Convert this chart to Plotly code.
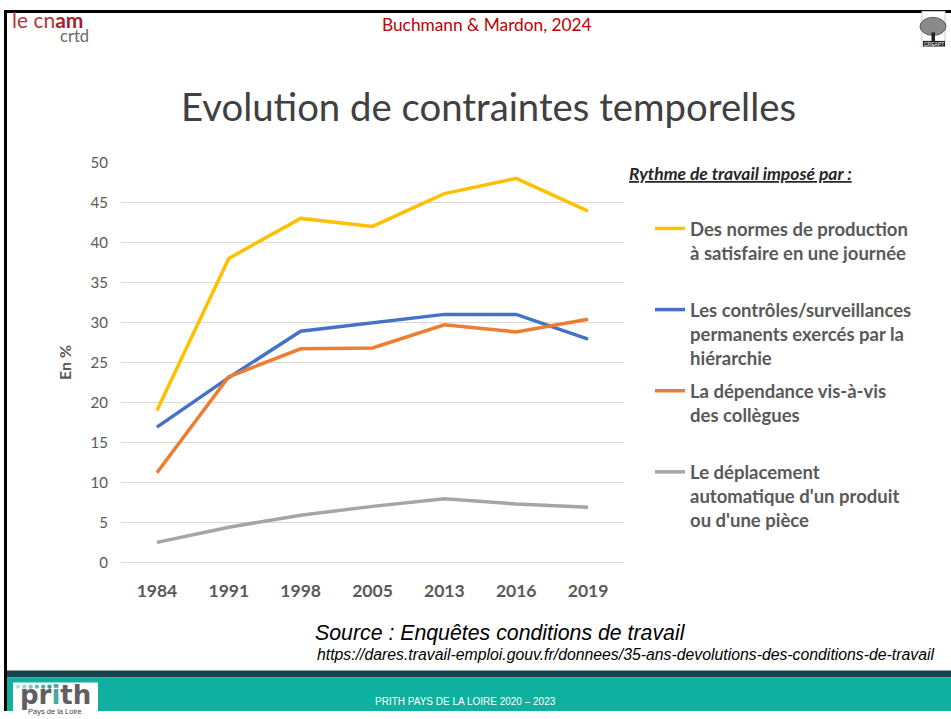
import plotly.graph_objects as go

W, H = 951, 719
# the photographed page maps figure pixel y to 9.6 + 0.975*y; design coordinates below are
# in the reference picture's pixels and are converted back through this mapping
Y_OFF, Y_SC = 9.6, 0.975

years = ["1984", "1991", "1998", "2005", "2013", "2016", "2019"]
normes = [19, 38, 43, 42, 46.1, 48, 43.9]
controles = [16.9, 23.1, 28.9, 30, 31, 31, 27.9]
dependance = [11.2, 23.2, 26.7, 26.8, 29.7, 28.8, 30.4]
deplacement = [2.5, 4.4, 5.9, 7.0, 7.95, 7.3, 6.9]

series_names = [
    "Des normes de production<br>à satisfaire en une journée<br> ",
    "Les contrôles/surveillances<br>permanents exercés par la<br>hiérarchie",
    "La dépendance vis-à-vis<br>des collègues<br> ",
    "Le déplacement<br>automatique d'un produit<br>ou d'une pièce",
]
series_values = [normes, controles, dependance, deplacement]
series_colors = ["#FFC000", "#4472C4", "#ED7D31", "#A5A5A5"]
y_ticks = [0, 5, 10, 15, 20, 25, 30, 35, 40, 45, 50]


def px(x):
    return x / W


def py(y):
    yf = (y - Y_OFF) / Y_SC
    return min(1.0, max(0.0, 1 - yf / H))


fig = go.Figure()
for i, (name, vals, col) in enumerate(zip(series_names, series_values, series_colors)):
    fig.add_trace(go.Scatter(
        x=years, y=vals, name=name, mode="lines", legendgroup=f"g{i}",
        line=dict(color=col, width=3.5), hoverinfo="x+y",
    ))

shapes = []
# slide frame
shapes.append(dict(type="line", xref="paper", yref="paper", x0=px(5), x1=px(951), y0=1 - 1.5 / H, y1=1 - 1.5 / H,
                   line=dict(color="black", width=3)))
shapes.append(dict(type="line", xref="paper", yref="paper", x0=px(5.5), x1=px(5.5), y0=0, y1=1,
                   line=dict(color="black", width=3)))
# footer bands
shapes.append(dict(type="rect", xref="paper", yref="paper", x0=px(7), x1=px(951), y0=py(670), y1=py(677),
                   fillcolor="#17434C", line=dict(width=0), layer="below"))
shapes.append(dict(type="rect", xref="paper", yref="paper", x0=px(7), x1=px(951), y0=0, y1=py(677),
                   fillcolor="#10B0A0", line=dict(width=0), layer="below"))
# prith logo box
shapes.append(dict(type="rect", xref="paper", yref="paper", x0=px(13), x1=px(98), y0=0, y1=py(682),
                   fillcolor="white", line=dict(width=0)))
# prith dots
dot_cols = ["#B8E2DD", "#9ED8D1", "#7ECDC4", "#5EC2B7", "#3DB6A9", "#1DAA9B"]
for i, c in enumerate(dot_cols):
    cx = 18 + i * 6.3
    shapes.append(dict(type="circle", xref="paper", yref="paper", x0=px(cx - 2.2), x1=px(cx + 2.2),
                       y0=py(688.4), y1=py(684), fillcolor=c, line=dict(width=0)))
# CREAPT tree logo
shapes.append(dict(type="rect", xref="paper", yref="paper", x0=px(922), x1=px(945), y0=py(46), y1=py(11),
                   fillcolor="white", line=dict(color="#cfcfcf", width=1)))
shapes.append(dict(type="circle", xref="paper", yref="paper", x0=px(920), x1=px(946), y0=py(35), y1=py(17),
                   fillcolor="#8a8a8a", line=dict(color="#5a5a5a", width=1)))
shapes.append(dict(type="rect", xref="paper", yref="paper", x0=px(931.5), x1=px(935), y0=py(41), y1=py(32),
                   fillcolor="#222222", line=dict(width=0)))
shapes.append(dict(type="rect", xref="paper", yref="paper", x0=px(923), x1=px(945), y0=py(46), y1=py(40.5),
                   fillcolor="#222222", line=dict(width=0)))

annotations = []


def note(x, y, text, size, color, family="Lato, Liberation Sans", xanchor="left"):
    annotations.append(dict(x=px(x), y=py(y), xref="paper", yref="paper", xanchor=xanchor, yanchor="middle",
                            showarrow=False, text=text, font=dict(family=family, size=size, color=color)))


# header
note(10, 19, "<span style='color:#B5353F'>le cn</span><b><span style='color:#A51E2B'>am</span></b>", 21, "#B5353F")
note(58, 36, "crtd", 16.5, "#6B6A5F")
note(487, 24, "Buchmann & Mardon, 2024", 17.3, "#C00000", xanchor="center")
note(933.5, 43.5, "CREAPT", 5, "white", family="Liberation Sans", xanchor="center")
# title
note(488, 106, "Evolution de contraintes temporelles", 38.3, "#404040", family="Lato, Open Sans", xanchor="center")
# legend heading
note(627, 173, "<b><i><u>Rythme de travail imposé par :</u></i></b>", 17.5, "#262626")
# source
note(313, 633, "<i>Source : Enquêtes conditions de travail</i>", 21.3, "black", family="Liberation Sans")
note(936, 654, "<i>https://dares.travail-emploi.gouv.fr/donnees/35-ans-devolutions-des-conditions-de-travail</i>",
     15.8, "black", family="Liberation Sans", xanchor="right")
# footer
note(465, 701, "PRITH PAYS DE LA LOIRE 2020 – 2023", 10, "white", family="Liberation Sans", xanchor="center")
note(55, 695, "<b><span style='color:#5F5F5F'>pr</span><span style='color:#4BA9A0'>i</span>"
              "<span style='color:#5F5F5F'>th</span></b>", 26, "#5F5F5F", family="DejaVu Sans", xanchor="center")
note(55, 712, "Pays de la Loire", 7.5, "#444444", family="Liberation Sans", xanchor="center")

fig.update_layout(
    width=W, height=H,
    margin=dict(l=0, r=0, t=0, b=0),
    paper_bgcolor="white", plot_bgcolor="white",
    font=dict(family="Lato, Liberation Sans", color="#595959"),
    showlegend=True,
    legend=dict(
        x=px(650), y=py(209.5), xanchor="left", yanchor="top",
        traceorder="grouped", tracegroupgap=6, valign="top",
        font=dict(family="Lato, Liberation Sans", size=18.5, color="#595959", weight="bold"),
        bgcolor="rgba(0,0,0,0)", itemwidth=30,
    ),
    shapes=shapes,
    annotations=annotations,
    xaxis=dict(
        type="category", domain=[px(121), px(624)], range=[-0.5, 6.5],
        showgrid=False, showline=False, zeroline=False, ticks="",
        tickfont=dict(family="Lato, Liberation Sans", size=17.5, color="#595959", weight="bold"),
        ticklabelstandoff=16,
    ),
    yaxis=dict(
        domain=[py(562), py(162)], range=[0, 50], tickvals=y_ticks,
        showgrid=True, gridcolor="#D9D9D9", gridwidth=1,
        zeroline=True, zerolinecolor="#D9D9D9", zerolinewidth=1,
        showline=False, ticks="",
        tickfont=dict(family="Lato, Liberation Sans", size=15, color="#595959"),
        ticklabelstandoff=12,
        title=dict(text="<b>En %</b>", standoff=14,
                   font=dict(family="Lato, Liberation Sans", size=16, color="#595959")),
    ),
)

post = (
    "document.documentElement.style.margin='0';"
    "document.body.style.margin='0';document.body.style.padding='0';"
    "document.body.style.overflow='hidden';"
)
fig.write_html("out.html", config={"displayModeBar": False}, post_script=post)
